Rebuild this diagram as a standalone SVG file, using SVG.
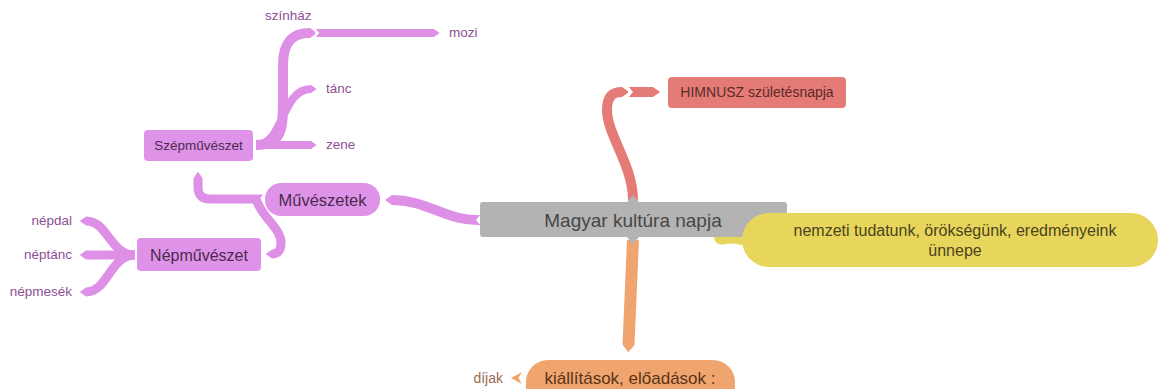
<svg xmlns="http://www.w3.org/2000/svg" width="1159" height="389" viewBox="0 0 1159 389">
<style>
text{font-family:"Liberation Sans",Arial,sans-serif}
.c{fill:none;stroke-linecap:butt;stroke-linejoin:round}
.pu{stroke:#de8fe6}
.re{stroke:#e57b77}
.or{stroke:#f0a56e}
.leaf{font-size:13.5px;fill:#8e4f94}
.pn{fill:#df93e8}
.pt{fill:#4a2a4e;text-anchor:middle}
</style>
<defs>
<marker id="ap" viewBox="0 0 10 10" refX="0" refY="5" markerWidth="1" markerHeight="1" orient="auto" markerUnits="strokeWidth" overflow="visible"><path d="M0,0 L7,5 L0,10 Z" fill="#de8fe6"/></marker>
<marker id="ar" viewBox="0 0 10 10" refX="0" refY="5" markerWidth="1" markerHeight="1" orient="auto" markerUnits="strokeWidth" overflow="visible"><path d="M0,0 L7,5 L0,10 Z" fill="#e57b77"/></marker>
<marker id="ao" viewBox="0 0 10 10" refX="0" refY="5" markerWidth="1" markerHeight="1" orient="auto" markerUnits="strokeWidth" overflow="visible"><path d="M0,0 L6,5 L0,10 Z" fill="#f0a56e"/></marker>
<marker id="n" viewBox="0 0 10 10" refX="0" refY="5" markerWidth="1" markerHeight="1" orient="auto" markerUnits="strokeWidth" overflow="visible"><path d="M-1,-1 L4,5 L-1,11 Z" fill="#ffffff"/></marker>
</defs>
<rect width="1159" height="389" fill="#ffffff"/>
<g id="connectors">
<path class="c pu" stroke-width="10" d="M480,220 C445,221 428,200 392,200" marker-start="url(#n)" marker-end="url(#ap)"/>
<path class="c pu" stroke-width="9" d="M263,199 L210,199 Q198,199 198,187 L198,178" marker-start="url(#n)" marker-end="url(#ap)"/>
<path class="c pu" stroke-width="9" d="M256,199 C262,218 281,228 281,243 Q281,254 272,254" marker-end="url(#ap)"/>
<path class="c pu" stroke-width="8" d="M256,145 L311,145" marker-start="url(#n)" marker-end="url(#ap)"/>
<path class="c pu" stroke-width="8" d="M256,145 C284,145 281,89 311,89" marker-end="url(#ap)"/>
<path class="c pu" stroke-width="10" d="M256,145 C282,145 283,130 283,100 L283,65 C283,42 292,33 310,33" marker-end="url(#ap)"/>
<path class="c pu" stroke-width="8" d="M316,33 L434,33" marker-start="url(#n)" marker-end="url(#ap)"/>
<path class="c pu" stroke-width="9" d="M135,255 C110,255 108,221 86,221" marker-start="url(#n)" marker-end="url(#ap)"/>
<path class="c pu" stroke-width="9" d="M135,255 L86,255" marker-end="url(#ap)"/>
<path class="c pu" stroke-width="9" d="M135,255 C110,255 108,292 86,292" marker-end="url(#ap)"/>
<path class="c re" stroke-width="10" d="M633,200 C633,165 607,135 607,110 C607,97 612,92 622,92" marker-end="url(#ar)"/>
<path class="c re" stroke-width="10" d="M629,92 L653,92" marker-start="url(#n)" marker-end="url(#ar)"/>
<path class="c or" stroke-width="12" d="M633,240 L628.5,345" marker-end="url(#ao)"/>
<path fill="#f0a56e" d="M522,372 L511,378 L522,384 L518.5,378 Z"/>
<path fill="#e8d65c" d="M714,236 L750,236 L750,245 C740,246 733,242 726,244 C719,246 714,243 714,236 Z"/>
</g>
<g id="node-center">
<rect x="480" y="202" width="307" height="35" rx="3" fill="#b3b3b3"/>
<path d="M627,202 L633,195 L639,202 Z M627,237 L633,244 L639,237 Z" fill="#b3b3b3"/>
<text x="633" y="227" font-size="19" fill="#474747" text-anchor="middle">Magyar kultúra napja</text>
</g>
<g id="node-nemzeti">
<rect x="742" y="213" width="416" height="54" rx="27" fill="#e8d65c"/>
<text x="955" y="236" font-size="16" fill="#4a4420" text-anchor="middle">nemzeti tudatunk, örökségünk, eredményeink</text>
<text x="955" y="256" font-size="16" fill="#4a4420" text-anchor="middle">ünnepe</text>
</g>
<g id="node-himnusz">
<rect x="668" y="77" width="178" height="31" rx="4" fill="#e57b77"/>
<text x="757" y="97" font-size="14" fill="#5a2a28" text-anchor="middle">HIMNUSZ születésnapja</text>
</g>
<g id="node-kiallitasok">
<rect x="526" y="360" width="209" height="50" rx="22" fill="#f0a56e"/>
<text x="630" y="384" font-size="17" fill="#5a3418" text-anchor="middle">kiállítások, előadások :</text>
</g>
<g id="node-dijak">
<text x="503" y="383" font-size="14" fill="#9a6a50" text-anchor="end">díjak</text>
</g>
<g id="node-muveszetek">
<rect class="pn" x="265" y="183" width="115" height="33" rx="16"/>
<text class="pt" x="322.5" y="205.5" font-size="16.5">Művészetek</text>
</g>
<g id="node-szepmuveszet">
<rect class="pn" x="144" y="130" width="109" height="31" rx="4"/>
<text class="pt" x="198.5" y="150" font-size="13.5">Szépművészet</text>
</g>
<g id="node-nepmuveszet">
<rect class="pn" x="137" y="238" width="124" height="33" rx="4"/>
<text class="pt" x="199" y="261" font-size="16">Népművészet</text>
</g>
<g id="node-szinhaz"><text class="leaf" x="265" y="20">színház</text></g>
<g id="node-mozi"><text class="leaf" x="449" y="37">mozi</text></g>
<g id="node-tanc"><text class="leaf" x="326" y="93">tánc</text></g>
<g id="node-zene"><text class="leaf" x="326" y="149">zene</text></g>
<g id="node-nepdal"><text class="leaf" x="72" y="225" text-anchor="end">népdal</text></g>
<g id="node-neptanc"><text class="leaf" x="72" y="259" text-anchor="end">néptánc</text></g>
<g id="node-nepmesek"><text class="leaf" x="72" y="296" text-anchor="end">népmesék</text></g>
</svg>
